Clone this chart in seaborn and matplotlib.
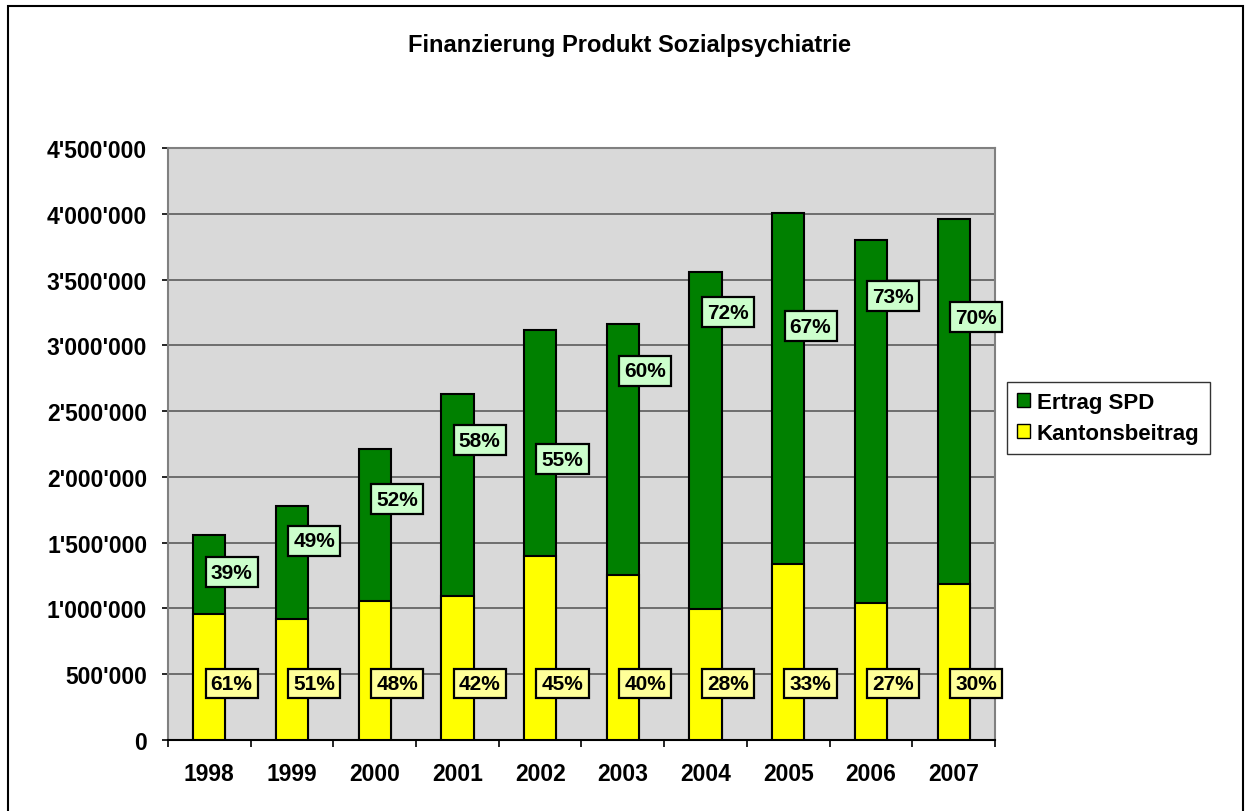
import numpy as np
import pandas as pd
import seaborn as sns
import matplotlib

matplotlib.use("Agg")
import matplotlib.pyplot as plt
from matplotlib.patches import Patch, Rectangle

years = ["1998", "1999", "2000", "2001", "2002", "2003", "2004", "2005", "2006", "2007"]
kantonsbeitrag = [958000, 920000, 1057000, 1095000, 1399000, 1254000, 996000, 1338000, 1041000, 1186000]
ertrag_spd = [600000, 859000, 1155000, 1535000, 1718000, 1908000, 2561000, 2668000, 2760000, 2774000]
pct_spd = ["39%", "49%", "52%", "58%", "55%", "60%", "72%", "67%", "73%", "70%"]
pct_kanton = ["61%", "51%", "48%", "42%", "45%", "40%", "28%", "33%", "27%", "30%"]
# hand-placed label heights, as in the original chart
spd_label_y = [1277000, 1513000, 1832000, 2280000, 2135000, 2805000, 3253000, 3147000, 3375000, 3215000]
kanton_label_y = [429000] * 10

y_ticks = [0, 500000, 1000000, 1500000, 2000000, 2500000, 3000000, 3500000, 4000000, 4500000]
y_tick_labels = ["0", "500'000", "1'000'000", "1'500'000", "2'000'000", "2'500'000",
                 "3'000'000", "3'500'000", "4'000'000", "4'500'000"]

df = pd.DataFrame({"Jahr": years, "Kanton": kantonsbeitrag, "SPD": ertrag_spd})
df["Total"] = df["Kanton"] + df["SPD"]

green = "#008000"
yellow = "#FFFF00"

sns.set_theme(style="white")
plt.rcParams["font.family"] = ["Liberation Sans", "DejaVu Sans"]
plt.rcParams["text.color"] = "black"
plt.rcParams["xtick.color"] = "black"
plt.rcParams["ytick.color"] = "black"

fig = plt.figure(figsize=(12.47, 8.12), dpi=100)
ax = fig.add_axes([0.1347, 0.0874, 0.6632, 0.7291])
ax.set_facecolor("#D9D9D9")

sns.barplot(data=df, x="Jahr", y="Total", color=green, width=0.39,
            edgecolor="black", linewidth=1.5, saturation=1, ax=ax, zorder=3)
sns.barplot(data=df, x="Jahr", y="Kanton", color=yellow, width=0.39,
            edgecolor="black", linewidth=1.5, saturation=1, ax=ax, zorder=3)

for i in range(len(years)):
    ax.text(i + 0.27, spd_label_y[i], pct_spd[i], ha="center", va="center",
            fontsize=15, fontweight="bold", zorder=5,
            bbox=dict(boxstyle="square,pad=0.25", fc="#CCFFCC", ec="black", lw=1.6))
    ax.text(i + 0.27, kanton_label_y[i], pct_kanton[i], ha="center", va="center",
            fontsize=15, fontweight="bold", zorder=5,
            bbox=dict(boxstyle="square,pad=0.25", fc="#FFFF99", ec="black", lw=1.6))

ax.set_xlim(-0.5, 9.5)
ax.set_ylim(0, 4500000)
ax.set_yticks(y_ticks)
ax.set_yticklabels(y_tick_labels, fontsize=16.5, fontweight="bold")
ax.set_xticklabels(years, fontsize=16.5, fontweight="bold")
ax.set_xticks(np.arange(-0.5, 10, 1), minor=True)
ax.tick_params(axis="x", which="major", length=0, pad=16)
ax.tick_params(axis="x", which="minor", length=5, width=1.2, color="black", bottom=True)
ax.tick_params(axis="y", length=4.5, width=1.2, color="black", left=True, pad=10.5)
ax.yaxis.grid(True, color="#505050", linewidth=1.1, zorder=0)
ax.set_axisbelow(True)
ax.set_xlabel("")
ax.set_ylabel("")
for side in ["left", "right", "top"]:
    ax.spines[side].set_color("#808080")
    ax.spines[side].set_linewidth(1.5)
ax.spines["bottom"].set_color("black")
ax.spines["bottom"].set_linewidth(1.5)

fig.text(0.505, 0.944, "Finanzierung Produkt Sozialpsychiatrie", ha="center", va="center",
         fontsize=17, fontweight="bold")

handles = [Patch(facecolor=green, edgecolor="black", label="Ertrag SPD"),
           Patch(facecolor=yellow, edgecolor="black", label="Kantonsbeitrag")]
leg = fig.legend(handles=handles, loc="upper left", bbox_to_anchor=(0.8075, 0.5283),
                 borderaxespad=0, fancybox=False, frameon=True, edgecolor="black",
                 handlelength=0.6, handleheight=0.6, handletextpad=0.3, borderpad=0.45,
                 labelspacing=0.45, prop={"size": 16, "weight": "bold"})
leg.get_frame().set_linewidth(1.0)

fig.patches.append(Rectangle((0.0065, -0.01), 0.9905, 1.001, transform=fig.transFigure,
                             fill=False, edgecolor="black", linewidth=1.5))

plt.savefig("out.png")
